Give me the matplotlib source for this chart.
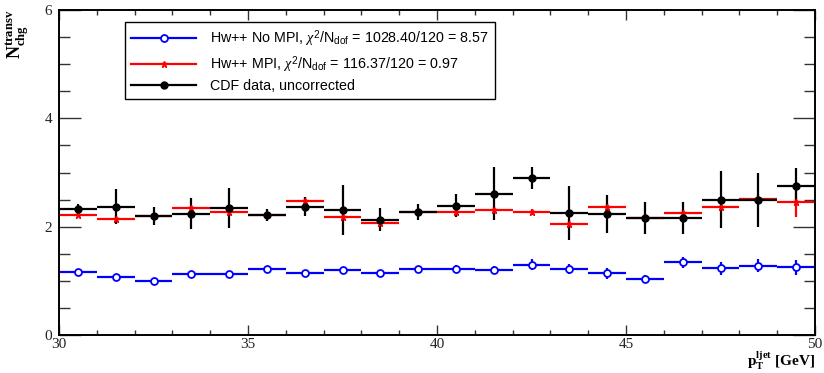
import matplotlib.pyplot as plt
from matplotlib.lines import Line2D
from matplotlib.ticker import MultipleLocator

# bin centres (pT leading jet, 1 GeV bins)
pt = [30.5, 31.5, 32.5, 33.5, 34.5, 35.5, 36.5, 37.5, 38.5, 39.5,
      40.5, 41.5, 42.5, 43.5, 44.5, 45.5, 46.5, 47.5, 48.5, 49.5]

nompi = [1.17, 1.07, 1.00, 1.12, 1.13, 1.22, 1.14, 1.20, 1.14, 1.22,
         1.22, 1.20, 1.30, 1.22, 1.14, 1.03, 1.34, 1.23, 1.28, 1.25]
nompi_err = [0.03, 0.03, 0.03, 0.03, 0.03, 0.04, 0.04, 0.04, 0.04, 0.06,
             0.07, 0.07, 0.10, 0.10, 0.10, 0.07, 0.10, 0.12, 0.12, 0.14]

mpi = [2.21, 2.15, 2.19, 2.34, 2.28, 2.21, 2.47, 2.18, 2.07, 2.27,
       2.27, 2.31, 2.27, 2.05, 2.36, 2.16, 2.26, 2.37, 2.51, 2.45]
mpi_err = [0.04, 0.04, 0.04, 0.04, 0.05, 0.04, 0.08, 0.05, 0.07, 0.06,
           0.06, 0.06, 0.06, 0.08, 0.07, 0.07, 0.07, 0.08, 0.10, 0.28]

cdf = [2.32, 2.37, 2.20, 2.24, 2.35, 2.21, 2.37, 2.31, 2.13, 2.27,
       2.39, 2.61, 2.90, 2.26, 2.23, 2.16, 2.16, 2.50, 2.49, 2.75]
cdf_err = [0.09, 0.32, 0.17, 0.29, 0.37, 0.11, 0.17, 0.46, 0.21, 0.14,
           0.21, 0.49, 0.21, 0.50, 0.35, 0.29, 0.30, 0.53, 0.50, 0.33]

labels = [r"Hw++ No MPI, $\chi^{2}$/N$_{\rm dof}$ = 1028.40/120 = 8.57",
          r"Hw++ MPI, $\chi^{2}$/N$_{\rm dof}$ = 116.37/120 = 0.97",
          "CDF data, uncorrected"]

plt.rcParams['mathtext.fontset'] = 'custom'
plt.rcParams['mathtext.rm'] = 'Liberation Sans'
plt.rcParams['mathtext.it'] = 'Liberation Serif:italic'
plt.rcParams['mathtext.bf'] = 'Liberation Serif:bold'

fig = plt.figure(figsize=(8.24, 3.73), dpi=100)
ax = fig.add_axes([59/824, 38/373, 756/824, 325/373])

xerr = 0.5
ax.errorbar(pt, nompi, xerr=xerr, yerr=nompi_err, fmt='o', color='#0000ff',
            mfc='white', mec='#0000ff', mew=1.3, ms=5, elinewidth=1.6,
            capsize=0)
ax.errorbar(pt, mpi, xerr=xerr, yerr=mpi_err, fmt='*', color='#ff0000',
            ms=5, elinewidth=1.6, capsize=0)
ax.errorbar(pt, cdf, xerr=xerr, yerr=cdf_err, fmt='o', color='black',
            ms=5, elinewidth=1.6, capsize=0)

ax.set_xlim(30, 50)
ax.set_ylim(0, 6)
ax.xaxis.set_major_locator(MultipleLocator(5))
ax.xaxis.set_minor_locator(MultipleLocator(1))
ax.yaxis.set_major_locator(MultipleLocator(2))
ax.yaxis.set_minor_locator(MultipleLocator(0.5))
ax.tick_params(which='both', direction='in', top=True, right=True,
               width=1, color='#333333')
ax.tick_params(axis='x', which='major', length=7.5)
ax.tick_params(axis='x', which='minor', length=3.8)
ax.tick_params(axis='y', which='major', length=16)
ax.tick_params(axis='y', which='minor', length=8)
ax.tick_params(axis='x', pad=2)
ax.tick_params(axis='y', pad=5)
for lab in ax.get_xticklabels() + ax.get_yticklabels():
    lab.set_family('Liberation Serif')
    lab.set_fontsize(11)
    lab.set_color('#222222')
for sp in ax.spines.values():
    sp.set_linewidth(1.4)

# legend entries: line with the marker in the middle
handles = [
    Line2D([], [], color='#0000ff', lw=1.6, marker='o', ms=5,
           mfc='white', mec='#0000ff', mew=1.3),
    Line2D([], [], color='#ff0000', lw=1.6, marker='*', ms=5),
    Line2D([], [], color='black', lw=1.6, marker='o', ms=5),
]
leg = ax.legend(handles, labels, loc='upper left',
                bbox_to_anchor=(125/824, 1 - 22/373),
                bbox_transform=fig.transFigure, borderaxespad=0,
                prop={'family': 'Liberation Sans', 'size': 10.3},
                handlelength=4.5, handletextpad=1.0, labelspacing=0.3,
                borderpad=0.45, fancybox=False, framealpha=1,
                edgecolor='black', numpoints=1)
leg.get_frame().set_linewidth(1.0)

fig.text(18/824, 1 - 10/373, r"$\mathbf{N_{chg}^{transv}}$", rotation=90,
         ha='center', va='top', fontsize=13)
fig.text(815/824, 1 - 361/373, r"$\mathbf{p_{T}^{ljet}}$ [GeV]",
         ha='right', va='center', fontsize=11, family='Liberation Serif',
         weight='bold')

plt.savefig('out.png', dpi=100)
